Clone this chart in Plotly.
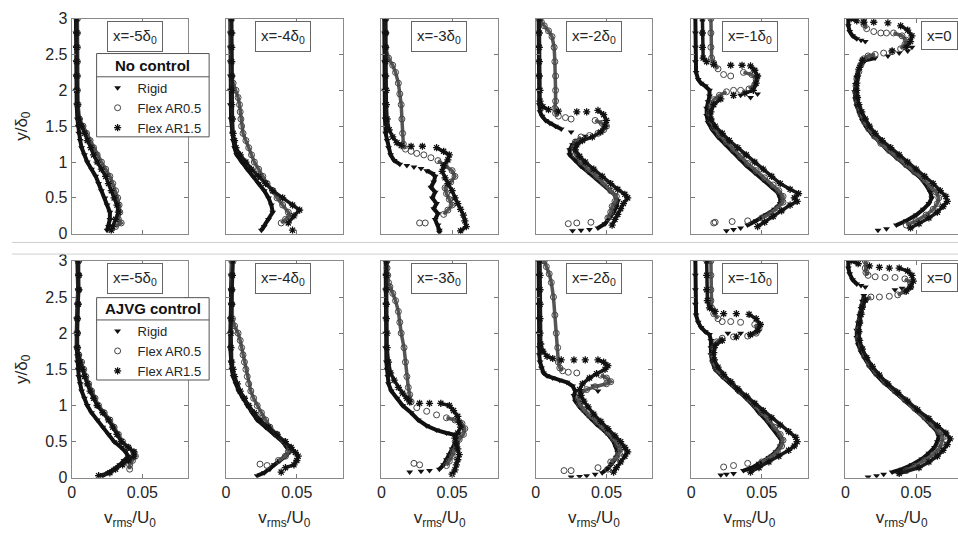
import plotly.graph_objects as go

# ---------------- data (y/delta0, v_rms/U0 x 1000); None breaks the chain ----------------
SERIES = ["Rigid", "Flex AR0.5", "Flex AR1.5"]
CONDITIONS = ["No control", "AJVG control"]
STATIONS = ["x=-5δ<sub>0</sub>", "x=-4δ<sub>0</sub>", "x=-3δ<sub>0</sub>",
            "x=-2δ<sub>0</sub>", "x=-1δ<sub>0</sub>", "x=0"]
X_TICKS = [0, 0.05]
X_TICK_TEXT = ["0", "0.05"]
Y_TICKS = [0, 0.5, 1, 1.5, 2, 2.5, 3]
Y_TICK_TEXT = ["0", "0.5", "1", "1.5", "2", "2.5", "3"]

# ---- No control ----
NC_M5_RIGID = [(3.0,3),(2.8,3),(2.6,3),(2.4,3),(2.2,3),(2.0,3),(1.8,3.5),(1.6,4),(1.5,4.5),(1.4,5),(1.3,6),(1.2,7),(1.1,9),(1.0,11),(0.9,14),(0.8,17),(0.7,19),(0.6,21),(0.5,23.5),(0.4,25),(0.3,27),(0.2,27),(0.1,26),(0.05,25)]
NC_M5_AR05 = [(3.0,4),(2.8,4),(2.6,4),(2.4,4),(2.2,4),(2.0,4),(1.8,4.5),(1.6,5.5),(1.5,8),(1.4,10.5),(1.3,13),(1.2,15.5),(1.1,18),(1.0,21),(0.9,24),(0.8,27),(0.7,29),(0.6,31),(0.5,32.5),(0.4,33.5),(0.3,34),(0.2,33),(0.15,35),(0.1,31)]
NC_M5_AR15 = [(3.0,3.5),(2.8,3.5),(2.6,3.5),(2.4,3.5),(2.2,3.5),(2.0,3.5),(1.8,4),(1.6,5),(1.5,7),(1.4,9),(1.3,11),(1.2,13.5),(1.1,15.5),(1.0,18),(0.9,21),(0.8,24),(0.7,26),(0.6,28),(0.5,30),(0.4,32),(0.3,33),(0.2,31),(0.1,29),(0.05,28)]

NC_M4_RIGID = [(3,3),(2.8,3),(2.6,3),(2.4,3),(2.2,3),(2.0,3),(1.8,3),(1.6,3.5),(1.4,4.5),(1.3,5),(1.2,6),(1.1,7.5),(1.0,11),(0.9,15),(0.8,19),(0.7,23),(0.6,27),(0.5,30),(0.4,32),(0.3,33),(0.2,30),(0.1,27),(0.05,25)]
NC_M4_AR05 = [(3,3.5),(2.8,3.5),(2.6,3.5),(2.4,3.5),(2.2,4),(2.1,5),(2.0,7),(1.9,8.5),(1.8,9.5),(1.7,10),(1.6,10.5),(1.5,11),(1.4,12),(1.3,14),(1.2,16),(1.1,18),(1.0,20),(0.9,23),(0.8,26),(0.7,29),(0.6,33),(0.5,36),(0.4,40),(0.3,44),(0.25,45),(0.2,42),(0.15,39)]
NC_M4_AR15 = [(3,4),(2.8,4),(2.6,4),(2.4,4),(2.2,4),(2.0,4),(1.8,4),(1.6,4.5),(1.4,5),(1.3,6),(1.2,7),(1.1,10),(1.0,14),(0.9,18),(0.8,23),(0.7,28),(0.6,33),(0.5,40),(0.4,47),(0.33,52),(0.25,48),(0.15,44),None,(0.05,47)]

NC_M3_RIGID = [(3,2),(2.8,2),(2.6,2),(2.4,2),(2.2,2),(2.0,2),(1.8,2.5),(1.6,2.5),(1.4,3),(1.3,4),(1.2,5),(1.1,6.5),(1.02,9),(0.97,13),None,(0.95,18),None,(0.93,23),None,(0.91,28),None,(0.88,32),(0.84,36),(0.8,38),(0.72,37),(0.65,35),(0.58,38),(0.5,36),(0.42,39),(0.35,37),(0.28,40),(0.2,38),(0.12,40),(0.05,41),(0.02,41)]
NC_M3_AR05 = [(3,3),(2.8,3),(2.6,3),(2.45,5),(2.35,8),(2.25,10),(2.1,12),(1.95,13),(1.8,14),(1.6,14.5),(1.4,15),(1.25,15.5),(1.18,17),None,(1.15,21),None,(1.12,25),None,(1.1,30),None,(1.06,35),None,(1.02,40),(0.95,45),(0.88,50),(0.8,52),(0.72,49),(0.64,45),(0.56,46),(0.48,48),(0.4,50),(0.33,47),(0.27,44),None,(0.15,27),None,(0.15,31)]
NC_M3_AR15 = [(3,3),(2.8,3),(2.6,3),(2.4,3),(2.2,3),(2.0,3.5),(1.8,3.5),(1.6,4),(1.45,5.5),(1.35,8),(1.27,11),(1.23,14),None,(1.22,21),None,(1.22,29),None,(1.2,39),(1.15,44),(1.1,48),(1.03,47),(0.95,44),(0.87,43),(0.78,45),(0.7,47),(0.6,50),(0.5,52),(0.42,54),(0.34,56),(0.26,58),(0.18,59),(0.1,60),(0.04,56)]

NC_M2_RIGID = [(3,2),(2.8,2),(2.6,2),(2.4,2),(2.2,2),(2.0,2),(1.8,2.5),(1.7,3),(1.64,4.5),(1.58,7),(1.54,10),(1.5,14),(1.46,18),None,(1.42,25),None,(1.36,35),None,(1.3,29),(1.24,26),(1.17,24),(1.1,24),(1.02,28),(0.94,32),(0.86,37),(0.78,42),(0.7,47),(0.62,52),(0.54,56),(0.46,58),(0.38,57),(0.3,55),(0.22,52),(0.14,49),(0.08,44),None,(0.06,38),None,(0.05,32),None,(0.04,26)]
NC_M2_AR05 = [(3,3),(2.95,4),(2.9,6),(2.83,9),(2.75,11.5),(2.6,13),(2.4,13.5),(2.2,14),(2.0,14),(1.85,14),(1.75,13.5),(1.68,14),(1.64,16),None,(1.62,21),None,(1.6,25),None,(1.58,42),(1.54,47),(1.5,50),(1.45,48),(1.4,44),None,(1.37,38),None,(1.35,32),(1.28,28),(1.2,27),(1.1,28),(1.0,32),(0.9,37),(0.8,43),(0.7,48),(0.6,53),(0.52,57),(0.45,56),(0.38,54),(0.3,53),(0.22,51),None,(0.16,39),None,(0.15,29),None,(0.14,23)]
NC_M2_AR15 = [(3,2.5),(2.8,2.5),(2.6,2.5),(2.4,2.5),(2.2,2.5),(2.0,3),(1.85,3),(1.77,5),(1.73,9),None,(1.71,16),None,(1.7,29),None,(1.7,36),None,(1.72,44),(1.66,48),(1.58,50),(1.5,49),(1.42,46),(1.35,40),(1.3,33),(1.24,29),(1.17,28),(1.08,31),(1.0,35),(0.9,41),(0.8,47),(0.7,53),(0.62,58),(0.55,63),(0.5,65),(0.42,62),(0.35,60),(0.27,58),(0.2,56),(0.12,54)]

NC_M1_RIGID = [(3,3),(2.8,3),(2.6,3),(2.4,3),(2.25,3.5),(2.15,5),(2.1,7),(2.06,10),(2.0,13),(1.92,13),(1.84,12),(1.75,11),(1.65,11),(1.55,12),(1.45,15),(1.35,19),(1.25,24),(1.15,29),(1.05,34),(0.95,39),(0.85,45),(0.75,51),(0.65,57),(0.58,61),(0.5,63),(0.42,63),(0.34,59),(0.26,53),(0.18,46),(0.12,40),None,(0.08,35),None,(0.06,30),None,(0.04,25),None,(1.93,35),None,(1.9,42),None,(1.95,47)]
NC_M1_AR05 = [(3,14),(2.8,14),(2.6,14),(2.45,14.5),(2.38,16),(2.3,19),None,(2.22,23),None,(2.2,28),None,(2.25,37),(2.22,43),(2.15,46),(2.08,45),(2.02,41),None,(2.0,35),None,(2.0,30),None,(1.98,25),(1.93,20),(1.87,16),(1.78,14),(1.68,13),(1.58,14),(1.48,16),(1.38,20),(1.28,25),(1.18,30),(1.08,35),(0.98,40),(0.88,46),(0.78,52),(0.68,58),(0.6,62),(0.52,65),(0.44,65),(0.36,61),(0.28,56),(0.22,50),None,(0.18,40),None,(0.17,29),None,(0.16,17),None,(0.15,16)]
NC_M1_AR15 = [(3,8),(2.8,8),(2.6,8),(2.45,8.5),(2.4,11),None,(2.36,16),None,(2.35,28),None,(2.35,36),None,(2.34,42),(2.28,45),(2.2,47),(2.1,46),(2.0,44),(1.96,38),None,(1.93,30),None,(1.88,21),(1.8,16),(1.7,14),(1.6,14),(1.5,17),(1.4,22),(1.3,27),(1.2,33),(1.1,39),(1.0,45),(0.9,51),(0.8,57),(0.7,63),(0.62,70),(0.56,76),(0.5,73),(0.45,75),(0.4,70),(0.32,64),(0.24,58),(0.16,52),(0.1,47)]

NC_0_RIGID = [(3,2),(2.9,2),(2.82,3),(2.76,5),(2.72,8),None,(2.7,11),None,(2.68,14),None,(2.6,47),None,(2.55,44),None,(2.52,38),None,(2.48,30),None,(2.45,21),(2.42,14),(2.36,11),(2.28,9),(2.18,8),(2.08,7),(1.98,6.5),(1.88,7),(1.78,8),(1.68,10),(1.58,12),(1.48,15),(1.38,19),(1.28,24),(1.18,29),(1.08,35),(0.98,41),(0.88,47),(0.78,53),(0.68,57),(0.58,60),(0.5,61),(0.42,59),(0.34,55),(0.26,50),(0.18,43),(0.12,36),None,(0.07,29),None,(0.05,23)]
NC_0_AR05 = [(3,13),(2.92,13),(2.86,15),None,(2.82,20),None,(2.8,25),None,(2.8,29),None,(2.8,34),(2.76,40),(2.7,43),(2.64,42),(2.58,39),None,(2.54,33),None,(2.52,27),None,(2.5,21),(2.48,16),(2.44,13),(2.36,11),(2.26,9.5),(2.16,8),(2.06,7.5),(1.96,7.5),(1.86,8),(1.76,9.5),(1.66,11),(1.56,13.5),(1.46,16.5),(1.36,20.5),(1.26,25),(1.16,31),(1.06,37),(0.96,43),(0.86,49),(0.76,55),(0.66,60),(0.58,64),(0.5,66),(0.42,65),(0.34,62),(0.26,57),(0.18,50),(0.12,43)]
NC_0_AR15 = [(3,4),(2.97,8),None,(2.95,13),None,(2.95,20),None,(2.94,30),None,(2.9,39),(2.84,44),(2.76,47),(2.68,46),(2.6,43),None,(2.55,33),None,(2.42,12),(2.32,10),(2.2,8.5),(2.1,8),(2.0,8),(1.9,8.5),(1.8,9.5),(1.7,11.5),(1.6,14),(1.5,17),(1.4,21),(1.3,26),(1.2,32),(1.1,38),(1.0,44),(0.9,50),(0.8,56),(0.7,62),(0.6,67),(0.52,71),(0.45,72),(0.38,69),(0.3,65),(0.22,59),(0.14,52),(0.08,46)]

# ---- AJVG control ----
AJ_M5_RIGID = [(3,4),(2.8,4.5),(2.6,4.5),(2.4,4),(2.2,3.5),(2.0,3.5),(1.8,3.5),(1.6,4),(1.5,4.5),(1.4,5),(1.3,6),(1.2,7),(1.1,9),(1.0,11),(0.9,14),(0.8,18),(0.7,22),(0.6,26),(0.5,30),(0.42,35),(0.36,38),(0.3,40),(0.24,37),(0.18,34),(0.12,30),(0.07,26),(0.03,22)]
AJ_M5_AR05 = [(3,5),(2.8,5),(2.6,5),(2.4,4.5),(2.2,4),(2.0,4),(1.8,4),(1.7,5),(1.6,7),(1.5,8.5),(1.4,10),(1.3,12),(1.2,14),(1.1,16.5),(1.0,19),(0.9,23),(0.8,27),(0.7,30),(0.6,33),(0.5,36),(0.42,40),(0.35,44),(0.3,45),(0.24,43),(0.18,41),(0.12,41)]
AJ_M5_AR15 = [(3,4.5),(2.8,5),(2.6,5),(2.4,4.5),(2.2,4),(2.0,4),(1.8,4),(1.7,4.5),(1.6,6),(1.5,7.5),(1.4,9),(1.3,11),(1.2,13),(1.1,15.5),(1.0,18),(0.9,22),(0.8,26),(0.7,29),(0.6,32),(0.5,35),(0.42,40),(0.36,44),(0.3,44),(0.24,40),(0.18,36),(0.12,31),(0.07,27),(0.03,19)]

AJ_M4_RIGID = [(3,4),(2.8,3.5),(2.6,3.5),(2.4,3.5),(2.2,3),(2.0,3),(1.8,3),(1.6,3.5),(1.5,4),(1.4,5),(1.3,7),(1.2,9),(1.1,12),(1.0,15),(0.9,18.5),(0.8,22),(0.7,28),(0.6,34),(0.5,40),(0.42,43),(0.36,45),(0.3,42),(0.24,38),(0.18,34),(0.12,31),(0.07,27),(0.03,22)]
AJ_M4_AR05 = [(3,4),(2.8,4),(2.6,4),(2.4,4),(2.2,4.5),(2.1,6),(2.0,8.5),(1.9,10),(1.8,11),(1.7,12),(1.6,13),(1.5,14),(1.4,15),(1.3,16),(1.2,17.5),(1.1,19.5),(1.0,22),(0.9,25),(0.8,28),(0.7,31),(0.6,36),(0.5,41),(0.42,45),(0.36,44),(0.3,42),(0.24,37),None,(0.19,24),None,(0.17,29)]
AJ_M4_AR15 = [(3,5),(2.8,4.5),(2.6,4),(2.4,4),(2.2,3.5),(2.0,3.5),(1.8,3.5),(1.6,4),(1.5,5),(1.4,6),(1.3,8),(1.2,10),(1.1,13),(1.0,16),(0.9,20),(0.8,24),(0.7,30),(0.6,36),(0.5,42),(0.42,46),(0.35,49),(0.3,51),(0.24,50),(0.18,48),(0.14,42),None,(0.08,39)]

AJ_M3_RIGID = [(3,3),(2.8,3),(2.6,3),(2.4,3),(2.2,3),(2.0,3),(1.8,3),(1.6,3.5),(1.5,4),(1.4,4.5),(1.3,5),(1.2,7),(1.1,11),(1.0,15),(0.9,21),(0.8,26),(0.72,32),(0.66,39),(0.62,46),(0.6,51),(0.55,53),(0.48,52),(0.4,50),(0.32,48),(0.25,46),(0.18,44),(0.12,41),None,(0.1,34),None,(0.09,28),None,(0.08,20)]
AJ_M3_AR05 = [(3,4),(2.9,4),(2.8,4.5),(2.7,5),(2.64,6),(2.55,8),(2.45,10),(2.3,12),(2.15,13),(2.0,14),(1.8,16),(1.6,17),(1.4,18),(1.25,19),(1.15,20),(1.05,21),None,(0.97,25),None,(0.92,32),None,(0.87,39),None,(0.83,46),(0.8,52),(0.75,57),(0.68,59),(0.6,58),(0.53,55),(0.45,53),(0.37,51),(0.3,50),(0.23,48),(0.17,46),None,(0.2,23),None,(0.18,27)]
AJ_M3_AR15 = [(3,3.5),(2.8,3.5),(2.6,3.5),(2.4,3.5),(2.2,3.5),(2.0,4),(1.8,4),(1.6,5),(1.45,6.5),(1.35,9),(1.25,12),(1.17,15),(1.1,18),(1.05,20),None,(1.03,27),None,(1.03,34),None,(1.03,42),(1.0,48),(0.93,51),(0.85,54),(0.77,55),(0.7,56),(0.62,54),(0.55,52),(0.47,53),(0.4,54),(0.32,55),(0.25,54),(0.18,53),(0.11,52),(0.05,50)]

AJ_M2_RIGID = [(3,2),(2.8,2),(2.6,2),(2.4,2),(2.2,2),(2.0,2),(1.8,2.5),(1.7,2.5),(1.6,3),(1.52,4),(1.45,5.5),(1.41,8),(1.38,12),(1.35,17),(1.32,22),(1.27,26),(1.2,28),(1.14,27),(1.06,28),(0.98,31),(0.9,35),(0.82,39),(0.74,43),(0.66,48),(0.58,52),(0.5,55),(0.42,57),(0.35,58),(0.28,57),(0.2,54),(0.13,51),(0.07,47),None,(0.05,42),None,(0.03,36),None,(0.02,31),None,(0.01,25),None,(1.27,41),None,(1.2,44)]
AJ_M2_AR05 = [(3,6),(2.92,7.5),(2.82,9.5),(2.7,11),(2.5,12.5),(2.25,13.5),(2.0,14.5),(1.8,15.5),(1.6,16),(1.52,17),(1.48,19),None,(1.46,23),None,(1.45,29),None,(1.42,46),(1.38,50),(1.33,53),(1.3,50),(1.26,42),(1.22,36),(1.17,31),(1.1,30),(1.02,31),(0.94,34),(0.86,38),(0.78,43),(0.7,47),(0.62,51),(0.54,55),(0.46,58),(0.4,60),(0.34,59),(0.28,57),(0.22,53),None,(0.14,44),None,(0.12,51),None,(0.1,20),None,(0.1,25)]
AJ_M2_AR15 = [(3,3),(2.8,3),(2.6,3),(2.4,3),(2.2,3),(2.0,3),(1.85,3.5),(1.75,5),(1.68,8),(1.65,12),None,(1.63,18),None,(1.63,27),None,(1.63,35),None,(1.63,44),(1.6,48),(1.55,51),(1.5,49),(1.44,43),(1.38,38),(1.3,33),(1.22,31),(1.14,32),(1.06,34),(0.98,37),(0.88,41),(0.78,46),(0.68,51),(0.58,56),(0.5,60),(0.42,63),(0.36,65),(0.3,63),(0.22,60),(0.14,57),(0.08,55)]

AJ_M1_RIGID = [(3,3),(2.8,3),(2.6,3),(2.4,3),(2.25,3.5),(2.15,5),(2.08,7),(2.02,10),(1.98,13),(1.9,14),(1.8,14),(1.7,14),(1.6,15),(1.5,17),(1.4,22),(1.3,28),(1.2,33),(1.1,39),(1.0,44),(0.9,48),(0.8,53),(0.7,57),(0.6,61),(0.52,64),(0.44,63),(0.36,60),(0.28,55),(0.2,48),(0.14,43),(0.1,37),None,(0.06,30),None,(0.05,25),None,(0.04,21),None,(2.0,26),None,(2.0,35)]
AJ_M1_AR05 = [(3,14),(2.8,14),(2.6,14),(2.45,14),(2.35,14.5),(2.27,16),(2.2,19),None,(2.16,22),None,(2.16,28),None,(2.15,35),None,(2.12,45),(2.06,48),(2.0,46),(1.96,40),None,(1.95,30),None,(1.93,22),(1.88,18),(1.8,16),(1.7,15),(1.6,16),(1.5,18),(1.4,23),(1.3,29),(1.2,34),(1.1,40),(1.0,45),(0.9,50),(0.8,55),(0.7,59),(0.6,63),(0.52,65),(0.44,64),(0.36,61),(0.28,56),(0.22,50),None,(0.2,40),None,(0.17,30),None,(0.15,23)]
AJ_M1_AR15 = [(3,11),(2.8,11),(2.6,11),(2.45,11.5),(2.35,13),(2.3,17),None,(2.27,23),None,(2.27,32),None,(2.26,41),(2.2,46),(2.12,49),(2.04,47),(1.98,42),None,(1.95,32),None,(1.9,22),(1.83,17),(1.73,16),(1.63,16.5),(1.53,19),(1.43,23),(1.33,28),(1.23,33),(1.13,39),(1.03,45),(0.93,51),(0.83,57),(0.73,63),(0.64,69),(0.56,74),(0.5,75),(0.44,73),(0.38,69),(0.3,62),(0.22,55),(0.14,48),(0.08,42)]

AJ_0_RIGID = [(3,2),(2.9,2),(2.82,3),(2.74,5),(2.68,8),None,(2.66,11),None,(2.64,14),None,(2.6,35),None,(2.62,40),None,(2.52,13),(2.44,12),(2.34,11),(2.24,10),(2.14,9),(2.04,8),(1.94,8),(1.84,9),(1.74,11),(1.64,14),(1.54,17),(1.44,21),(1.34,26),(1.24,32),(1.14,38),(1.04,44),(0.94,50),(0.84,55),(0.74,60),(0.66,64),(0.58,66),(0.5,65),(0.42,63),(0.34,59),(0.26,54),(0.18,47),(0.12,40),(0.08,33),None,(0.05,27),None,(0.03,22),None,(0.01,16)]
AJ_0_AR05 = [(3,14),(2.9,14),(2.84,14.5),(2.8,16),None,(2.78,21),None,(2.77,28),None,(2.77,35),None,(2.75,42),(2.7,46),(2.64,46),(2.58,42),(2.53,37),None,(2.51,31),None,(2.5,24),None,(2.5,18),(2.46,14),(2.38,12),(2.28,11),(2.16,10),(2.04,9),(1.92,9),(1.8,11),(1.68,13.5),(1.56,17),(1.44,22),(1.32,28),(1.2,35),(1.08,42),(0.96,49),(0.84,56),(0.74,61),(0.64,66),(0.56,69),(0.48,68),(0.4,66),(0.32,62),(0.24,56),(0.16,49),(0.1,43)]
AJ_0_AR15 = [(3,4),(2.96,9),None,(2.93,17),None,(2.91,24),None,(2.9,31),None,(2.9,38),(2.86,44),(2.8,47),(2.72,48),(2.64,46),(2.58,43),None,(2.46,14),(2.36,12),(2.26,11),(2.14,10),(2.02,9.5),(1.9,10),(1.78,12),(1.66,15),(1.54,19),(1.42,24),(1.3,30),(1.18,37),(1.06,44),(0.94,51),(0.82,59),(0.72,65),(0.62,71),(0.54,74),(0.46,72),(0.38,69),(0.3,65),(0.22,59),(0.14,52),(0.06,38)]

PROFILES = [
    [[NC_M5_RIGID, NC_M5_AR05, NC_M5_AR15], [NC_M4_RIGID, NC_M4_AR05, NC_M4_AR15],
     [NC_M3_RIGID, NC_M3_AR05, NC_M3_AR15], [NC_M2_RIGID, NC_M2_AR05, NC_M2_AR15],
     [NC_M1_RIGID, NC_M1_AR05, NC_M1_AR15], [NC_0_RIGID, NC_0_AR05, NC_0_AR15]],
    [[AJ_M5_RIGID, AJ_M5_AR05, AJ_M5_AR15], [AJ_M4_RIGID, AJ_M4_AR05, AJ_M4_AR15],
     [AJ_M3_RIGID, AJ_M3_AR05, AJ_M3_AR15], [AJ_M2_RIGID, AJ_M2_AR05, AJ_M2_AR15],
     [AJ_M1_RIGID, AJ_M1_AR05, AJ_M1_AR15], [AJ_0_RIGID, AJ_0_AR05, AJ_0_AR15]],
]

# ---------------- layout / style ----------------
W, H = 958, 544
FONT = "Liberation Sans, Arial, sans-serif"
TXT = "#262626"
COL_LEFT = [68, 223, 379, 534, 690, 845]
PANEL_W = 117
ROW_PX = [(11, 233), (261, 485)]
X_MAX = 0.0824
LABEL_X = [0.30, 0.25, 0.25, 0.256, 0.265, 0.667]
LEG_BOX = [(93, 47, 206, 133), (93, 299, 206, 384)]   # left, top, right, bottom (px)
LEG_SEP = [71, 322]

MARKERS = [
    dict(symbol="triangle-down", size=6, color="#111111", line=dict(width=0)),
    dict(symbol="circle-open", size=6, color="#444444", line=dict(width=1)),
    dict(symbol="asterisk-open", size=6, color="#111111", line=dict(width=1.3, color="#111111")),
]
LINES = [dict(color="#111111", width=4), dict(color="#555555", width=3.5), dict(color="#1a1a1a", width=3.5)]

fig = go.Figure()
layout = {}
annotations = []
shapes = []

for r in range(2):
    for c in range(6):
        idx = r * 6 + c + 1
        sfx = "" if idx == 1 else str(idx)
        xa, ya = "x" + sfx, "y" + sfx
        for s in range(3):
            pts = PROFILES[r][c][s]
            xs = [p[1] / 1000.0 if p is not None else None for p in pts]
            ys = [p[0] if p is not None else None for p in pts]
            fig.add_trace(go.Scatter(x=xs, y=ys, mode="lines+markers", line=LINES[s],
                                     marker=MARKERS[s], xaxis=xa, yaxis=ya,
                                     showlegend=False, connectgaps=False, hoverinfo="skip"))
        x0 = COL_LEFT[c] / W
        x1 = min((COL_LEFT[c] + PANEL_W) / W, 1.0)
        xr = X_MAX if c < 5 else X_MAX * (W - COL_LEFT[c]) / PANEL_W
        top, bot = ROW_PX[r]
        xax = dict(
            domain=[x0, x1], range=[0, xr], anchor=ya, tickmode="array",
            tickvals=X_TICKS, ticktext=X_TICK_TEXT, showticklabels=(r == 1),
            ticks="inside", ticklen=4, tickcolor="#777", showline=True, linecolor="#8a8a8a",
            linewidth=1, mirror="ticks", showgrid=False, zeroline=False,
            tickfont=dict(family=FONT, size=16, color=TXT))
        if r == 1:
            xax["title"] = dict(text="v<sub>rms</sub>/U<sub>0</sub>",
                                font=dict(family=FONT, size=17, color=TXT), standoff=11)
        yax = dict(
            domain=[1 - bot / H, 1 - top / H], range=[0, 3], anchor=xa, tickmode="array",
            tickvals=Y_TICKS, ticktext=Y_TICK_TEXT, showticklabels=(c == 0),
            ticks="inside", ticklen=4, tickcolor="#777", showline=True, linecolor="#8a8a8a",
            linewidth=1, mirror=("ticks" if c < 5 else False), showgrid=False, zeroline=False,
            tickfont=dict(family=FONT, size=16, color=TXT))
        if c == 0:
            yax["title"] = dict(text="y/δ<sub>0</sub>",
                                font=dict(family=FONT, size=17, color=TXT), standoff=13)
        layout["xaxis" + sfx] = xax
        layout["yaxis" + sfx] = yax
        annotations.append(dict(
            text=STATIONS[c], xref=xa + " domain", yref=ya + " domain",
            x=LABEL_X[c], y=0.99, xanchor="left", yanchor="top", showarrow=False,
            font=dict(family=FONT, size=15, color=TXT), bgcolor="white",
            bordercolor="#666", borderwidth=1, borderpad=5))

# legends: one box per row, title section drawn as annotation + separator line
for r, leg in enumerate(["legend", "legend2"]):
    sfx = "" if r == 0 else "7"
    for s in range(3):
        fig.add_trace(go.Scatter(x=[None], y=[None], mode="markers", marker=MARKERS[s],
                                 name=SERIES[s], legend=leg, xaxis="x" + sfx, yaxis="y" + sfx))
    L, T, R, B = LEG_BOX[r]
    shapes.append(dict(type="rect", xref="paper", yref="paper", x0=L / W, x1=R / W,
                       y0=1 - B / H, y1=1 - T / H, fillcolor="white",
                       line=dict(color="#555", width=1), layer="above"))
    shapes.append(dict(type="line", xref="paper", yref="paper", x0=L / W, x1=R / W,
                       y0=1 - LEG_SEP[r] / H, y1=1 - LEG_SEP[r] / H,
                       line=dict(color="#555", width=1), layer="above"))
    annotations.append(dict(
        text="<b>" + CONDITIONS[r] + "</b>", xref="paper", yref="paper",
        x=(L + R) / 2 / W, y=1 - (T + LEG_SEP[r]) / 2 / H, xanchor="center", yanchor="middle",
        showarrow=False, font=dict(family=FONT, size=15, color="#111")))
    layout[leg] = dict(
        x=(L + 1) / W, y=1 - (LEG_SEP[r] - 4) / H, xanchor="left", yanchor="top",
        bgcolor="rgba(0,0,0,0)", borderwidth=0,
        font=dict(family=FONT, size=13, color=TXT), tracegroupgap=0, itemwidth=30)

for yy in [242, 254]:
    shapes.append(dict(type="line", xref="paper", yref="paper", x0=8 / W, x1=1,
                       y0=1 - yy / H, y1=1 - yy / H, line=dict(color="#cfcfcf", width=1)))

fig.update_layout(width=W, height=H, margin=dict(l=0, r=0, t=0, b=0),
                  paper_bgcolor="white", plot_bgcolor="white",
                  annotations=annotations, shapes=shapes, **layout)

fig.write_html("out.html", config={"displayModeBar": False})
